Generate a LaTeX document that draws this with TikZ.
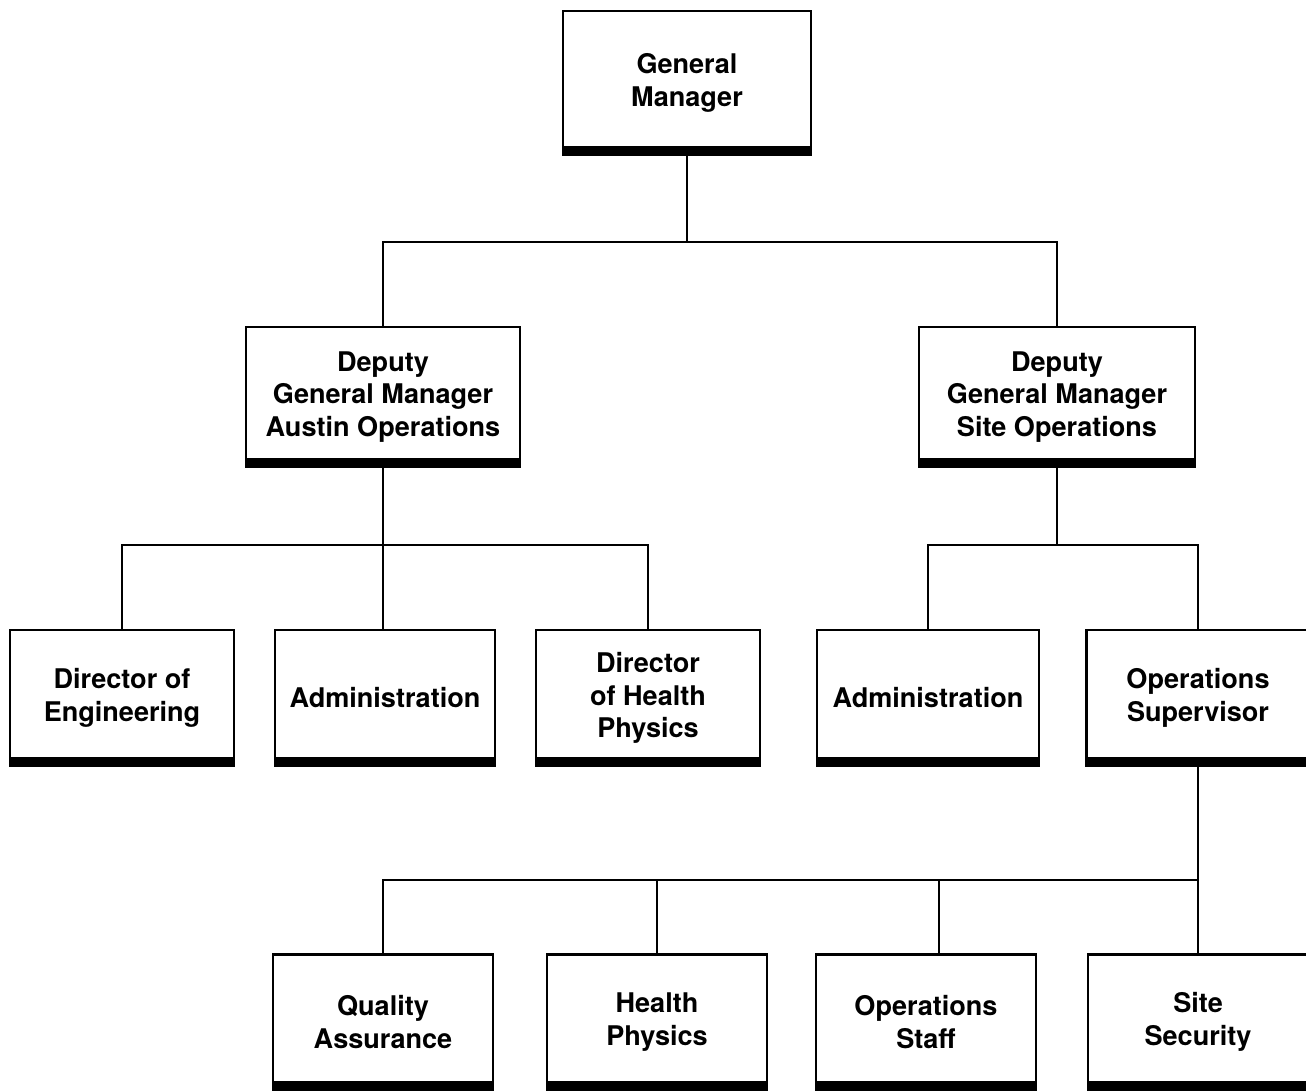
\documentclass[tikz,border=0pt]{standalone}
\usepackage{fontspec}
\setmainfont{TeX Gyre Heros}
\usetikzlibrary{positioning,calc}
\tikzset{
  post/.style={draw, line width=0.7pt, align=center, inner sep=2pt,
    font=\bfseries\fontsize{7.7}{9.3}\selectfont},
  rowthree/.style={post, minimum height=1.36cm},
  rowfour/.style={post, minimum height=1.35cm, minimum width=2.2cm},
}
\newcommand{\basebar}[1]{\fill (#1.south west) rectangle ([yshift=0.10cm]#1.south east);}

\begin{document}
\begin{tikzpicture}[x=0.01cm, y=-0.01cm, line width=0.7pt]
\useasboundingbox (0,0) rectangle (1306,1090);
% top
\node[post, minimum width=2.48cm, minimum height=1.44cm] (gm) at (687,83) {General\\ Manager};
% deputies
\node[post, minimum width=2.74cm, minimum height=1.40cm] (austin) at (383,397) {Deputy\\ General Manager\\ Austin Operations};
\node[post, minimum width=2.76cm, minimum height=1.40cm] (site) at (1057,397) {Deputy\\ General Manager\\ Site Operations};
% third row
\node[rowthree, minimum width=2.24cm] (direng) at (122,698) {Director of\\ Engineering};
\node[rowthree, minimum width=2.20cm] (admina) at (385,698) {Administration};
\node[rowthree, minimum width=2.24cm] (dirhp) at (648,698) {Director\\ of Health\\ Physics};
\node[rowthree, minimum width=2.22cm] (admins) at (928,698) {Administration};
\node[rowthree, minimum width=2.23cm] (opssup) at (1198,698) {Operations\\ Supervisor};
% fourth row
\node[rowfour] (qa) at (383,1022) {Quality\\ Assurance};
\node[rowfour] (hp) at (657,1022) {Health\\ Physics};
\node[rowfour] (ostaff) at (926,1022) {Operations\\ Staff};
\node[rowfour] (sec) at (1198,1022) {Site\\ Security};
\foreach \n in {gm,austin,site,direng,admina,dirhp,admins,opssup,qa,hp,ostaff,sec}
  {\basebar{\n}}
% connectors
\coordinate (topbus) at (0,242);
\coordinate (midbus) at (0,545);
\coordinate (lowbus) at (0,880);
\draw (gm.south) -- (gm.south |- topbus);
\draw (austin.north) |- (gm.south |- topbus) -| (site.north);
\draw (austin.south) -- (austin.south |- admina.north);
\draw (direng.north) |- (austin.south |- midbus) -| (dirhp.north);
\draw (site.south) -- (site.south |- midbus);
\draw (admins.north) |- (site.south |- midbus) -| (opssup.north);
\draw (opssup.south) -- (opssup.south |- lowbus);
\draw (qa.north) |- (opssup.south |- lowbus) -| (sec.north);
\draw (hp.north) -- (hp.north |- lowbus);
\draw ([xshift=0.13cm]ostaff.north) -- ([xshift=0.13cm]ostaff.north |- lowbus);
\end{tikzpicture}
\end{document}
